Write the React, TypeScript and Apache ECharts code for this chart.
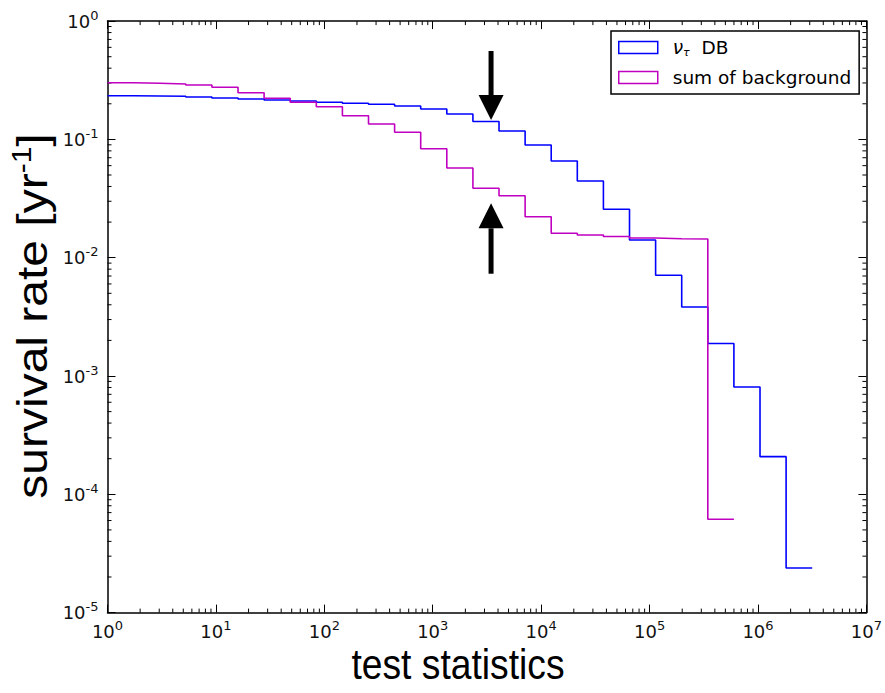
import React, { useEffect, useRef } from 'react';
import * as echarts from 'echarts';

// Histogram bin edges (test statistics, log-spaced)
const BIN_EDGES = [1, 1.741, 3.03, 5.275, 9.183, 15.99, 27.83, 48.45, 84.34, 146.8, 255.6, 444.8, 774.3, 1348, 2347, 4085, 7112, 12380, 21544, 37508, 65290, 113650, 197850, 344400, 599500, 1043600, 1816700, 3162300];
// Survival rate per bin [yr^-1]
const NU_TAU_DB = [0.234, 0.2327, 0.2314, 0.2282, 0.2239, 0.2196, 0.2153, 0.2112, 0.2059, 0.2019, 0.198, 0.1916, 0.1807, 0.164, 0.1416, 0.1178, 0.0897, 0.0657, 0.0445, 0.02565, 0.01411, 0.0071, 0.00383, 0.00188, 0.000807, 0.000208, 0.0000238];
const BACKGROUND = [0.3014, 0.2979, 0.2939, 0.2883, 0.2757, 0.2481, 0.2226, 0.2059, 0.189, 0.1586, 0.1349, 0.1148, 0.0834, 0.0573, 0.0386, 0.0334, 0.0222, 0.0161, 0.01555, 0.0151, 0.01467, 0.01447, 0.01439, 0.0000615];
// Arrows: [x, tail value, tip value]
const ARROWS = [
  [3450, 0.5588, 0.1459],
  [3450, 0.007465, 0.02883],
];
// Axis ranges
const X_MIN = 1;
const X_MAX = 1e7;
const Y_MIN = 1e-5;
const Y_MAX = 1;
const X_DECADES = [1, 10, 100, 1000, 1e4, 1e5, 1e6];
const Y_DECADES = [1e-5, 1e-4, 1e-3, 1e-2, 1e-1];
const MINOR_MULTS = [2, 3, 4, 5, 6, 7, 8, 9];

const NAME_SIGNAL = 'ντ DB';
const NAME_BG = 'sum of background';
const BLUE = '#0000ff';
const MAGENTA = '#c000c0';

function stepData(values: number[]) {
  const pts: number[][] = values.map((v, i) => [BIN_EDGES[i], v]);
  pts.push([BIN_EDGES[values.length], values[values.length - 1]]);
  return pts;
}

function fmtPow(value: number) {
  const e = Math.round(Math.log10(value));
  return '{b|10}{s|' + (e < 0 ? '-' + -e : String(e)) + '}';
}

const tickRich = {
  b: { fontFamily: 'DejaVu Sans', fontSize: 18, color: '#111', lineHeight: 25 },
  s: { fontFamily: 'DejaVu Sans', fontSize: 13, color: '#111', lineHeight: 14, verticalAlign: 'top' },
};

export default function App() {
  const ref = useRef<HTMLDivElement>(null);
  useEffect(() => {
    if (!ref.current) return;
    const chart = echarts.init(ref.current, null, { renderer: 'svg' });
    const minorX: number[][] = [];
    X_DECADES.forEach((d) => MINOR_MULTS.forEach((m) => minorX.push([d * m, 1e-2])));
    const minorY: number[][] = [];
    Y_DECADES.forEach((d) => MINOR_MULTS.forEach((m) => minorY.push([10, d * m])));

    const axisCommon = {
      type: 'log',
      logBase: 10,
      interval: 1,
      axisLine: { show: true, onZero: false, lineStyle: { color: '#000', width: 1.5 } },
      axisTick: { show: true, inside: true, length: 8, lineStyle: { color: '#000', width: 1 } },
      splitLine: { show: false },
      minorTick: { show: false },
    };

    chart.setOption({
      animation: false,
      backgroundColor: '#fff',
      grid: { left: 107.5, right: 17.3, top: 21.1, bottom: 80.4, containLabel: false },
      xAxis: [
        {
          ...axisCommon,
          position: 'bottom',
          min: X_MIN,
          max: X_MAX,
          axisLabel: { show: true, margin: 6, formatter: fmtPow, rich: tickRich, showMinLabel: true, showMaxLabel: true },
        },
        {
          ...axisCommon,
          position: 'top',
          min: X_MIN,
          max: X_MAX,
          axisLabel: { show: false },
        },
      ],
      yAxis: [
        {
          ...axisCommon,
          position: 'left',
          min: Y_MIN,
          max: Y_MAX,
          axisLabel: { show: true, margin: 9, formatter: fmtPow, rich: tickRich, showMinLabel: true, showMaxLabel: true },
        },
        {
          ...axisCommon,
          position: 'right',
          min: Y_MIN,
          max: Y_MAX,
          axisLabel: { show: false },
        },
      ],
      legend: {
        left: 611,
        top: 31,
        orient: 'vertical',
        padding: [7, 8, 7, 7],
        itemGap: 10,
        itemWidth: 39,
        itemHeight: 12,
        borderColor: '#000',
        borderWidth: 1.5,
        borderRadius: 0,
        backgroundColor: '#fff',
        data: [
          { name: NAME_SIGNAL, icon: 'rect', itemStyle: { color: '#fff', borderColor: BLUE, borderWidth: 1.5 } },
          { name: NAME_BG, icon: 'rect', itemStyle: { color: '#fff', borderColor: MAGENTA, borderWidth: 1.5 } },
        ],
        formatter: (name: string) => (name === NAME_SIGNAL ? '{nu|ν}{sub|τ}{t|  DB}' : '{t|' + name + '}'),
        textStyle: {
          fontFamily: 'DejaVu Sans',
          fontSize: 18.5,
          color: '#000',
          padding: [0, 0, 0, 10],
          rich: {
            nu: { fontFamily: 'DejaVu Sans', fontStyle: 'italic', fontSize: 18.5, color: '#000', lineHeight: 21 },
            sub: { fontFamily: 'DejaVu Sans', fontStyle: 'italic', fontSize: 11, color: '#000', lineHeight: 12, verticalAlign: 'bottom' },
            t: { fontFamily: 'DejaVu Sans', fontSize: 18.5, color: '#000', lineHeight: 21 },
          },
        },
      },
      graphic: [
        {
          type: 'text',
          x: 458,
          y: 664,
          scaleX: 0.887,
          style: {
            text: 'test statistics',
            fontFamily: '"Liberation Sans", Arial, sans-serif',
            fontSize: 42,
            fill: '#000',
            align: 'center',
            verticalAlign: 'middle',
          },
        },
        {
          type: 'text',
          x: 32,
          y: 316,
          rotation: Math.PI / 2,
          scaleX: 1.0,
          scaleY: 0.9,
          style: {
            text: '{a|survival rate [yr}{s|-1}{a|]}',
            fill: '#000',
            align: 'center',
            verticalAlign: 'middle',
            rich: {
              a: { fontFamily: '"Liberation Sans", Arial, sans-serif', fontSize: 48, fill: '#000', lineHeight: 54 },
              s: { fontFamily: '"Liberation Sans", Arial, sans-serif', fontSize: 30, fill: '#000', lineHeight: 34, verticalAlign: 'top' },
            },
          },
        },
      ],
      series: [
        {
          type: 'custom',
          name: 'minorX',
          silent: true,
          data: minorX,
          encode: { x: 0, y: 1 },
          renderItem: (params: any, api: any) => {
            const cs = params.coordSys;
            const px = api.coord([api.value(0), api.value(1)])[0];
            const st = { stroke: '#000', lineWidth: 1 };
            return {
              type: 'group',
              children: [
                { type: 'line', shape: { x1: px, y1: cs.y + cs.height, x2: px, y2: cs.y + cs.height - 4 }, style: st },
                { type: 'line', shape: { x1: px, y1: cs.y, x2: px, y2: cs.y + 4 }, style: st },
              ],
            };
          },
        },
        {
          type: 'custom',
          name: 'minorY',
          silent: true,
          data: minorY,
          encode: { x: 0, y: 1 },
          renderItem: (params: any, api: any) => {
            const cs = params.coordSys;
            const py = api.coord([api.value(0), api.value(1)])[1];
            const st = { stroke: '#000', lineWidth: 1 };
            return {
              type: 'group',
              children: [
                { type: 'line', shape: { x1: cs.x, y1: py, x2: cs.x + 4, y2: py }, style: st },
                { type: 'line', shape: { x1: cs.x + cs.width, y1: py, x2: cs.x + cs.width - 4, y2: py }, style: st },
              ],
            };
          },
        },
        {
          type: 'line',
          name: NAME_SIGNAL,
          data: stepData(NU_TAU_DB),
          step: 'end',
          symbol: 'none',
          showSymbol: false,
          lineStyle: { color: BLUE, width: 1.6 },
          itemStyle: { color: BLUE },
          z: 3,
        },
        {
          type: 'line',
          name: NAME_BG,
          data: stepData(BACKGROUND),
          step: 'end',
          symbol: 'none',
          showSymbol: false,
          lineStyle: { color: MAGENTA, width: 1.6 },
          itemStyle: { color: MAGENTA },
          z: 4,
        },
        {
          type: 'custom',
          name: 'arrows',
          silent: true,
          data: ARROWS,
          encode: { x: 0, y: [1, 2] },
          z: 5,
          renderItem: (params: any, api: any) => {
            const x = api.value(0);
            const tail = api.coord([x, api.value(1)]);
            const tip = api.coord([x, api.value(2)]);
            const dir = tip[1] > tail[1] ? 1 : -1;
            const headLen = 25;
            const headHalf = 12.5;
            const shaftHalf = 2.5;
            const baseY = tip[1] - dir * headLen;
            return {
              type: 'group',
              children: [
                {
                  type: 'rect',
                  shape: { x: tip[0] - shaftHalf, y: Math.min(tail[1], baseY), width: shaftHalf * 2, height: Math.abs(baseY - tail[1]) + 1 },
                  style: { fill: '#000' },
                },
                {
                  type: 'polygon',
                  shape: { points: [[tip[0], tip[1]], [tip[0] - headHalf, baseY], [tip[0] + headHalf, baseY]] },
                  style: { fill: '#000' },
                },
              ],
            };
          },
        },
      ],
    });
    return () => chart.dispose();
  }, []);
  return <div ref={ref} style={{ position: 'fixed', left: 0, top: 0, width: 885, height: 693, background: '#fff' }} />;
}
